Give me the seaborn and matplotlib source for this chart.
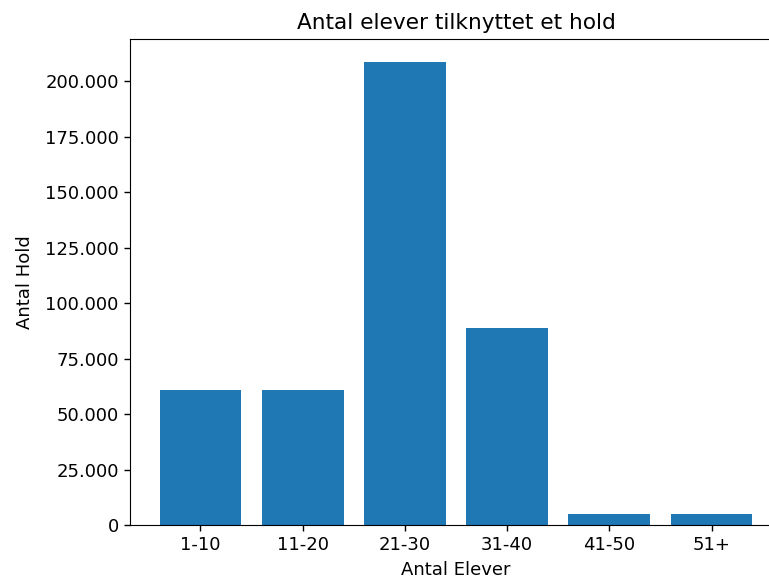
import matplotlib
matplotlib.use("Agg")
import matplotlib.pyplot as plt
from matplotlib.ticker import FuncFormatter, MultipleLocator
import pandas as pd
import seaborn as sns

# Data
categories = ['1-10', '11-20', '21-30', '31-40', '41-50', '51+']
antal_hold = [61000, 61000, 208700, 88800, 5100, 5100]

df = pd.DataFrame({'Antal Elever': categories, 'Antal Hold': antal_hold})

plt.rcParams['font.size'] = 13

fig = plt.figure(figsize=(7.69, 5.80), dpi=100)
# the reference is cropped on the right, so the axes run past the figure edge
ax = fig.add_axes([0.169, 0.0948, 0.848, 0.838])

sns.barplot(data=df, x='Antal Elever', y='Antal Hold', color='#1f77b4',
            saturation=1, width=0.8, ax=ax)

ax.set_xlim(-0.69, 5.69)
ax.set_ylim(0, 219135)
ax.yaxis.set_major_locator(MultipleLocator(25000))
ax.yaxis.set_major_formatter(FuncFormatter(lambda v, p: f'{int(v):,}'.replace(',', '.')))
ax.tick_params(length=4.5, width=1.0)
ax.spines['right'].set_visible(False)

ax.set_title('Antal elever tilknyttet et hold', fontsize=15.6, pad=7.5)
ax.set_xlabel('Antal Elever', labelpad=5)
ax.set_ylabel('Antal Hold', labelpad=8)

plt.savefig('out.png', dpi=100)
